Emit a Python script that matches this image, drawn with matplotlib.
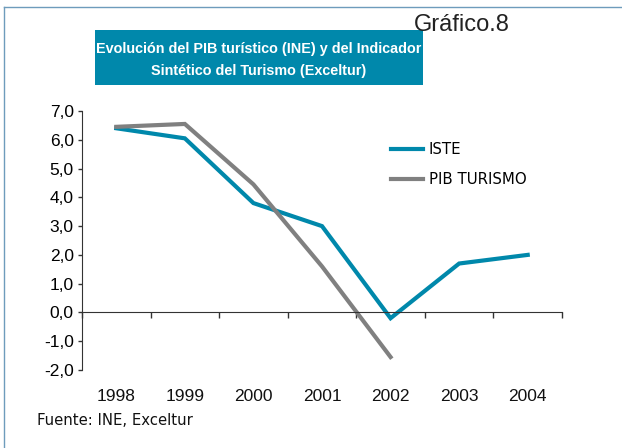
import matplotlib
matplotlib.use("Agg")
import matplotlib.pyplot as plt
from matplotlib.lines import Line2D
from matplotlib.patches import Rectangle

# data
years = ["1998", "1999", "2000", "2001", "2002", "2003", "2004"]
iste = [6.4, 6.05, 3.8, 3.0, -0.2, 1.7, 2.0]
pib_turismo = [6.45, 6.55, 4.45, 1.6, -1.55]
yticks = [-2, -1, 0, 1, 2, 3, 4, 5, 6, 7]

teal = "#0088AB"
grey = "#808080"

fig = plt.figure(figsize=(6.22, 4.48), dpi=100)
W, H = 622, 448

def fx(px):
    return px / W

def fy(py):
    return 1 - py / H

# frame lines (top and left)
fig.add_artist(Line2D([fx(4), 0.999], [fy(7), fy(7)], color="#6E9CBC", lw=1))
fig.add_artist(Line2D([fx(4), fx(4)], [fy(7), 0], color="#6E9CBC", lw=1))

# title box
fig.add_artist(Rectangle((fx(95), fy(85)), fx(423) - fx(95), fy(30) - fy(85),
                         transform=fig.transFigure, facecolor=teal, edgecolor="none"))
title_font = dict(family="Liberation Sans", weight="bold",
                  color="white", fontsize=10.35, ha="center", va="center")
fig.text(fx(259), fy(49), "Evolución del PIB turístico (INE) y del Indicador", **title_font)
fig.text(fx(259), fy(71), "Sintético del Turismo (Exceltur)", **title_font)

fig.text(fx(414), fy(25), "Gráfico.8", family="Liberation Sans",
         fontsize=17, color="#222222", ha="left", va="center")

ax = fig.add_axes([fx(82), fy(370), fx(562) - fx(82), fy(111) - fy(370)])
x = list(range(len(years)))
ax.plot(x, iste, color=teal, lw=3, solid_joinstyle="miter", label="ISTE")
ax.plot(x[:len(pib_turismo)], pib_turismo, color=grey, lw=3, solid_joinstyle="miter",
        label="PIB TURISMO")

ax.set_xlim(-0.5, len(years) - 0.5)
ax.set_ylim(-2, 7)
ax.set_yticks(yticks)
ax.set_yticklabels([f"{v:.1f}".replace(".", ",") for v in yticks],
                   family="Liberation Sans", fontsize=12.5)
ax.tick_params(axis="y", direction="out", length=3, width=1, color="#333333", pad=3)

ax.spines["top"].set_visible(False)
ax.spines["right"].set_visible(False)
ax.spines["left"].set_color("#333333")
ax.spines["bottom"].set_position(("data", 0))
ax.spines["bottom"].set_color("#333333")
ax.set_xticks([i - 0.5 for i in range(len(years) + 1)])
ax.set_xticklabels([])
ax.tick_params(axis="x", direction="out", length=4, width=1, color="#333333")

for i, yr in enumerate(years):
    ax.text(i, -0.104, yr, transform=ax.get_xaxis_transform(), ha="center", va="center",
            family="Liberation Sans", fontsize=12.5, color="#111111")

leg = ax.legend(loc="upper left", bbox_to_anchor=(fx(391), fy(142)),
                bbox_transform=fig.transFigure, frameon=False, borderpad=0,
                borderaxespad=0, handlelength=2.15, handletextpad=0.35,
                labelspacing=1.0, prop={"family": "DejaVu Sans", "size": 10.8})

fig.text(fx(37), fy(420), "Fuente: INE, Exceltur", family="DejaVu Sans", fontsize=10.7,
         color="#111111", ha="left", va="center")

fig.savefig("out.png", dpi=100)
